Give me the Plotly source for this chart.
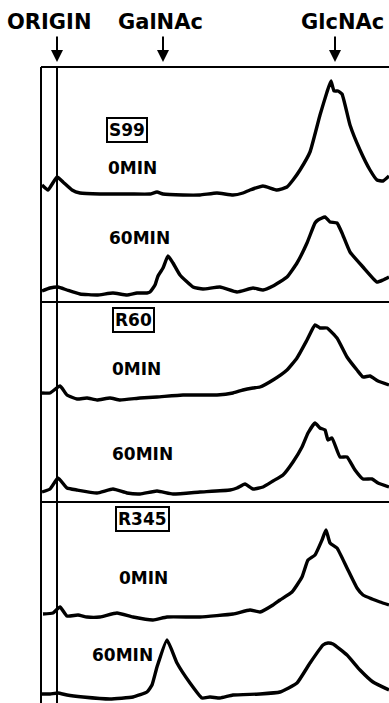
import plotly.graph_objects as go

# Migration distance (x) and detector signal (height above each lane's baseline)
s99_0_x = [42, 48, 57, 63, 72, 80, 100, 130, 150, 157, 163, 183, 200, 217, 233, 243, 250, 263, 277, 287, 293, 300, 310, 320, 327, 331, 334, 338, 342, 350, 360, 370, 377, 383, 389]
s99_0_y = [10, 5, 18, 13, 5, 2, 1, 1, 1, 3, 1, 0, 0, 2, 0, 2, 5, 9, 5, 8, 15, 25, 43, 80, 103, 114, 104, 104, 101, 70, 45, 25, 15, 14, 19]

s99_60_x = [42, 50, 58, 67, 80, 97, 113, 127, 137, 147, 150, 155, 158, 163, 168, 173, 180, 193, 203, 220, 237, 253, 263, 273, 287, 297, 307, 315, 318, 325, 330, 337, 342, 350, 363, 377, 383, 389]
s99_60_y = [6, 9, 10, 7, 3, 2, 4, 2, 4, 4, 5, 12, 21, 29, 41, 34, 22, 10, 8, 10, 5, 9, 7, 11, 20, 34, 54, 74, 77, 80, 75, 74, 64, 45, 30, 15, 17, 20]

r60_0_x = [42, 50, 60, 67, 77, 87, 97, 110, 120, 140, 157, 183, 217, 233, 243, 253, 260, 273, 287, 297, 307, 315, 320, 327, 337, 347, 357, 363, 370, 378, 389]
r60_0_y = [7, 7, 14, 5, 1, 2, 0, 2, 0, 2, 3, 5, 5, 7, 10, 12, 13, 20, 30, 42, 60, 75, 72, 72, 62, 43, 30, 23, 24, 19, 15]

r60_60_x = [42, 50, 58, 67, 77, 97, 113, 127, 140, 157, 173, 200, 230, 237, 245, 253, 263, 273, 283, 293, 302, 308, 315, 320, 325, 328, 332, 340, 347, 355, 363, 372, 378, 389]
r60_60_y = [2, 5, 16, 6, 4, 1, 5, 1, 0, 3, 0, 2, 4, 6, 10, 5, 7, 13, 19, 32, 47, 61, 71, 66, 64, 54, 56, 37, 37, 24, 15, 15, 11, 7]

r345_0_x = [43, 53, 60, 67, 78, 87, 100, 117, 133, 153, 167, 200, 233, 250, 260, 273, 280, 292, 302, 308, 315, 322, 326, 330, 337, 347, 357, 363, 372, 380, 389]
r345_0_y = [6, 7, 13, 4, 5, 3, 3, 7, 3, 0, 3, 3, 6, 10, 8, 15, 20, 28, 43, 60, 65, 80, 90, 77, 72, 52, 32, 25, 21, 18, 15]

r345_60_x = [42, 50, 58, 67, 83, 110, 133, 147, 152, 157, 167, 177, 190, 202, 210, 220, 233, 260, 280, 297, 310, 323, 328, 333, 347, 360, 373, 389]
r345_60_y = [5, 5, 6, 4, 2, 0, 2, 7, 14, 32, 59, 36, 16, 1, 2, 1, 4, 5, 7, 16, 36, 54, 56, 55, 44, 29, 17, 9]

lane_labels = ["0MIN", "60MIN", "0MIN", "60MIN", "0MIN", "60MIN"]
sample_labels = ["S99", "R60", "R345"]
marker_labels = ["ORIGIN", "GalNAc", "GlcNAc"]

H = 703
W = 389
# layout: pixel baselines of each lane (from top)
lane_base = [195, 297, 400, 494, 620, 699]
traces = [(s99_0_x, s99_0_y), (s99_60_x, s99_60_y), (r60_0_x, r60_0_y),
          (r60_60_x, r60_60_y), (r345_0_x, r345_0_y), (r345_60_x, r345_60_y)]

fig = go.Figure()
for (xs, ys), base in zip(traces, lane_base):
    off = H - base
    fig.add_trace(go.Scatter(x=xs, y=[off + v for v in ys], mode="lines",
                             line=dict(color="black", width=3.4, shape="spline", smoothing=0.4),
                             showlegend=False, hoverinfo="skip"))

def py(p):
    return H - p

shapes = []
frame_left, origin_x, frame_top = 41, 57, 67
lw = 2
shapes.append(dict(type="line", x0=frame_left, x1=frame_left, y0=py(frame_top), y1=0, line=dict(color="black", width=lw)))
shapes.append(dict(type="line", x0=origin_x, x1=origin_x, y0=py(frame_top), y1=0, line=dict(color="black", width=lw)))
for yp in [frame_top, 302, 502]:
    shapes.append(dict(type="line", x0=frame_left, x1=W, y0=py(yp), y1=py(yp), line=dict(color="black", width=lw)))

ann = []
head_font = dict(family="DejaVu Sans", size=21, color="black", weight="bold")
for txt, cx, ax in zip(marker_labels, [49, 160, 342], [57, 163, 335]):
    ann.append(dict(x=cx, y=py(22), text=txt, showarrow=False, font=head_font,
                    xanchor="center", yanchor="middle"))
    ann.append(dict(x=ax, y=py(62), ax=ax, ay=py(35), axref="x", ayref="y", text="",
                    showarrow=True, arrowhead=2, arrowsize=1.2, arrowwidth=2, arrowcolor="black"))

lab_font = dict(family="DejaVu Sans", size=17, color="black", weight="bold")
for txt, cx, cy in zip(sample_labels, [127, 133, 142], [130, 320, 519]):
    ann.append(dict(x=cx, y=py(cy), text=txt, showarrow=False, font=lab_font,
                    xanchor="center", yanchor="middle", bordercolor="black", borderwidth=2, borderpad=1))
lane_pos = [(106, 168), (107, 238), (110, 369), (110, 454), (117, 578), (90, 655)]
for txt, (lx, ly) in zip(lane_labels, lane_pos):
    ann.append(dict(x=lx, y=py(ly), text=txt, showarrow=False, font=lab_font,
                    xanchor="left", yanchor="middle"))

fig.update_layout(width=W, height=H, margin=dict(l=0, r=0, t=0, b=0),
                  paper_bgcolor="white", plot_bgcolor="white",
                  xaxis=dict(range=[0, W], visible=False, fixedrange=True),
                  yaxis=dict(range=[0, H], visible=False, fixedrange=True),
                  shapes=shapes, annotations=ann)

fig.write_html("out.html", config={"displayModeBar": False},
               post_script="document.body.style.margin='0';document.body.style.overflow='hidden';")
